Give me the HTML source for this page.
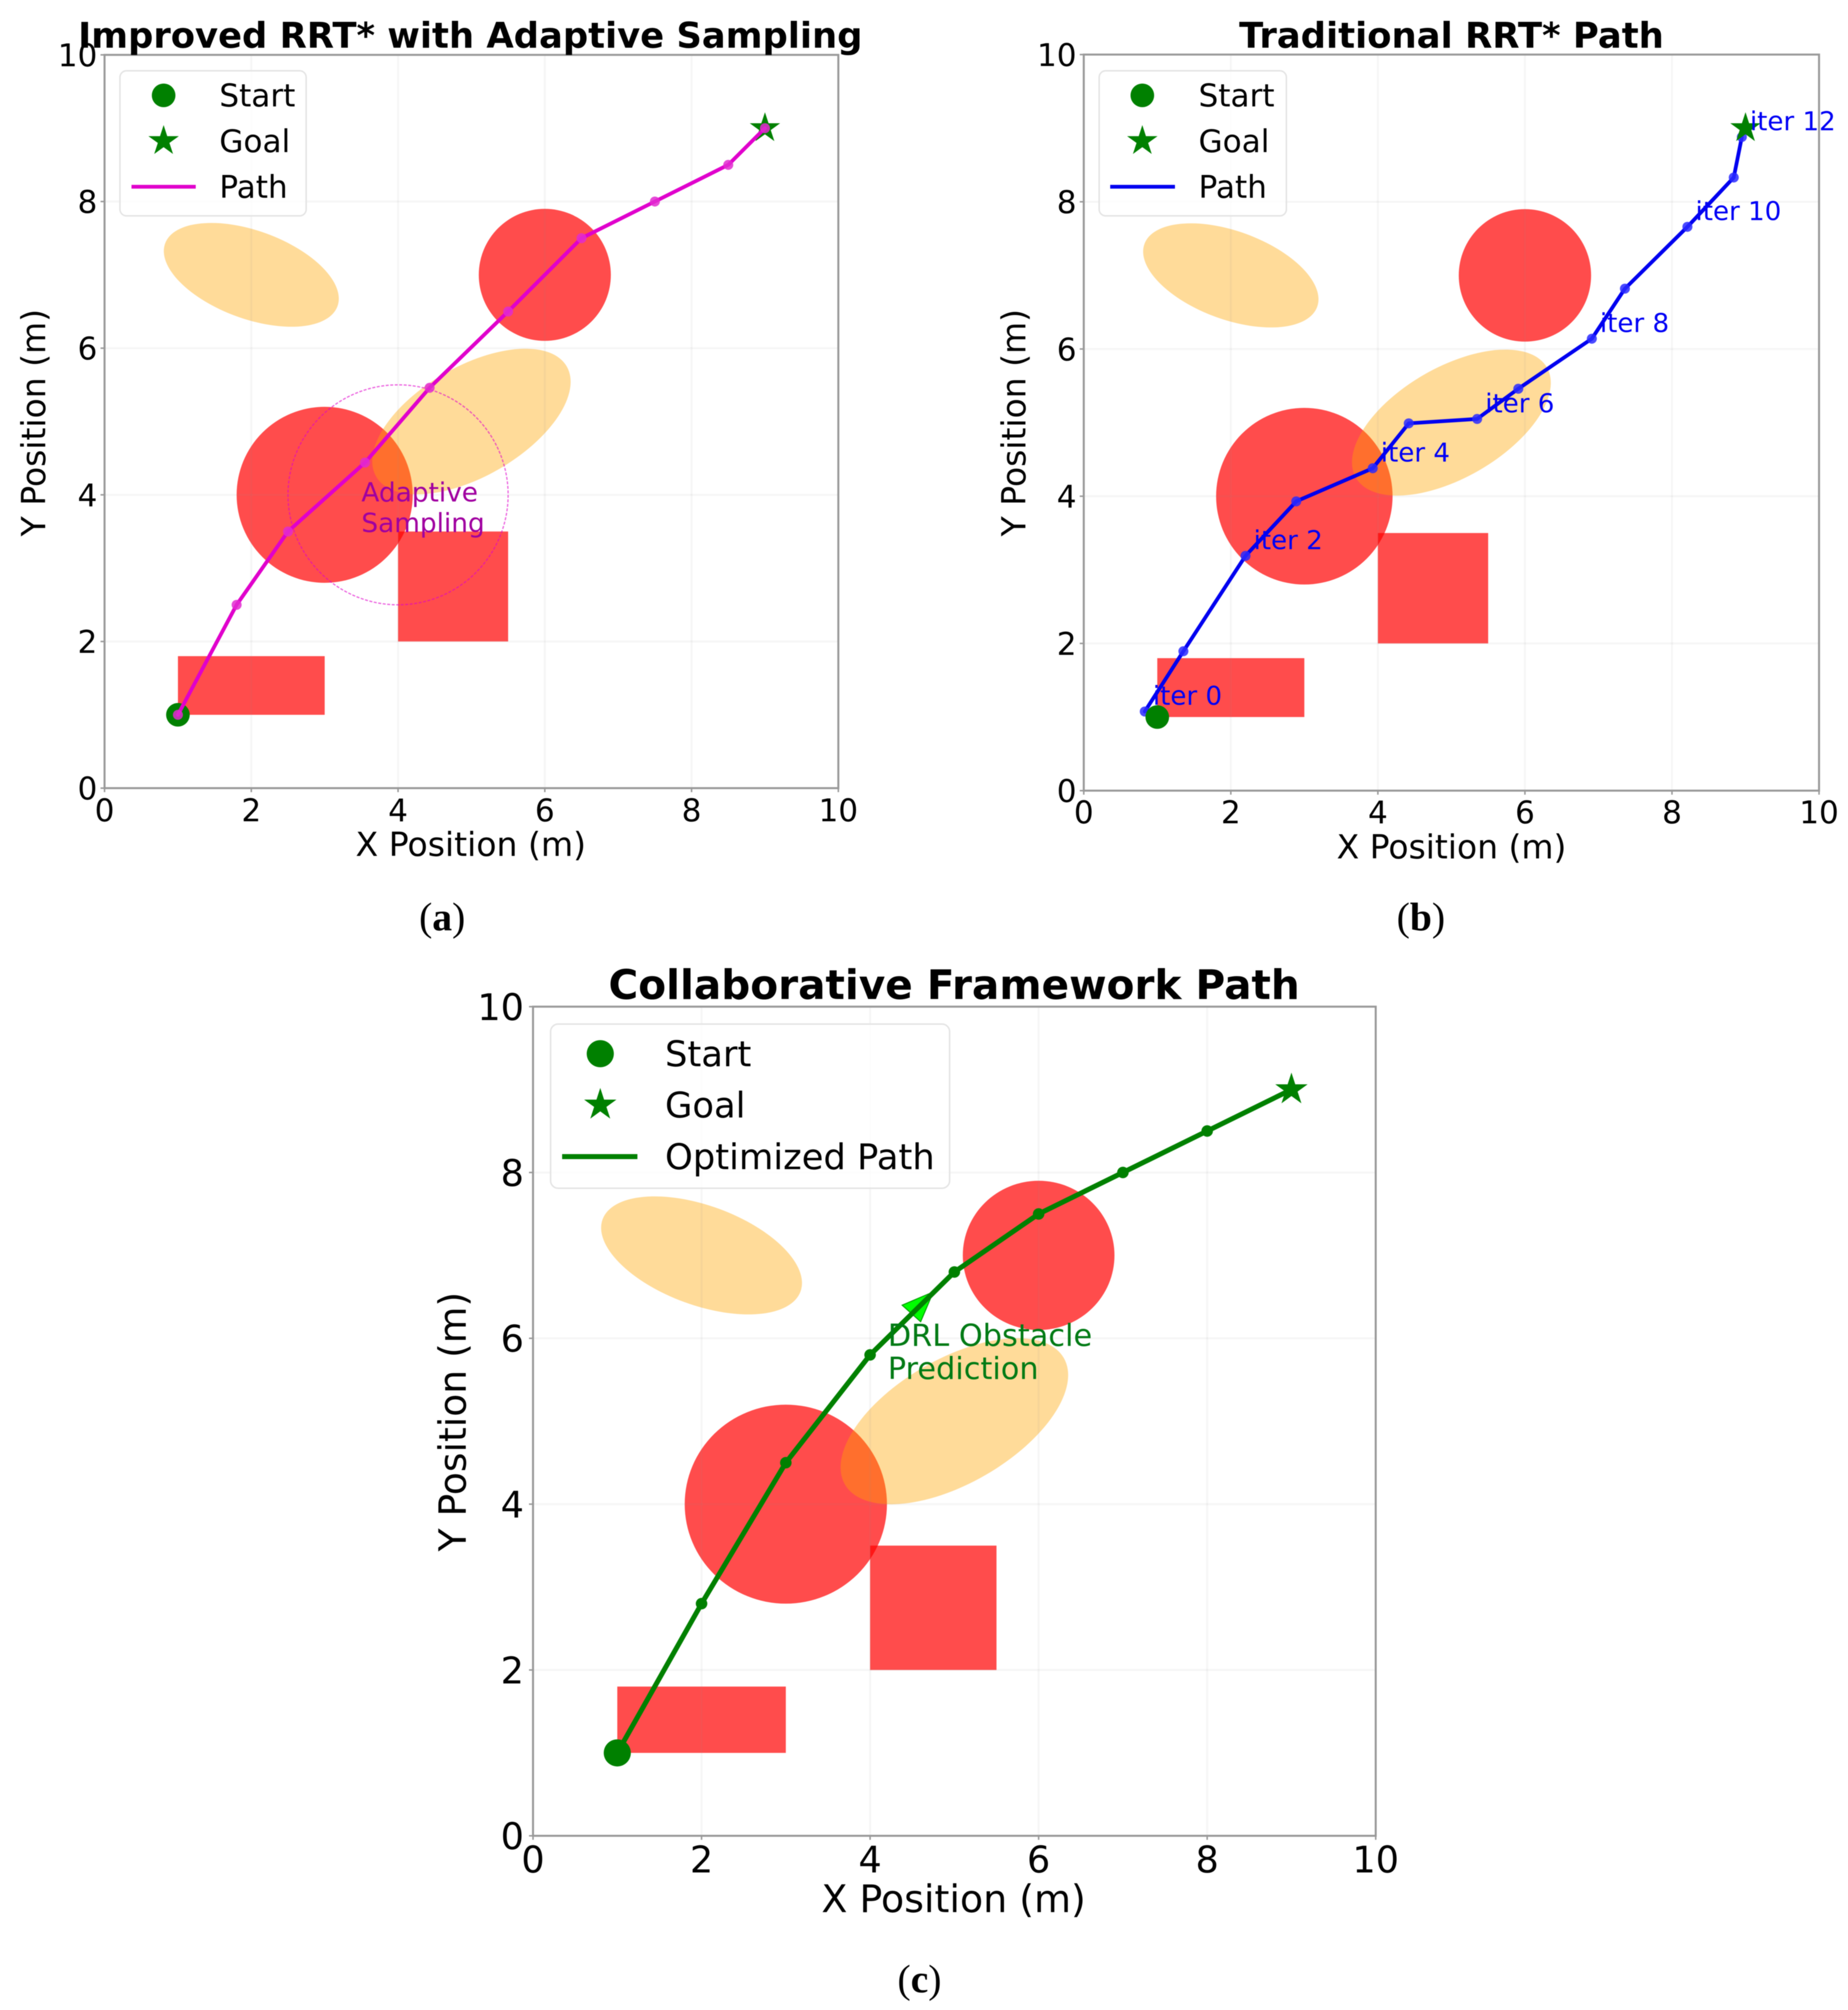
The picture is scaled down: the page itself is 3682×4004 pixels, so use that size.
<!DOCTYPE html>
<html lang="en">
<head>
<meta charset="utf-8">
<title>RRT* path planning comparison</title>
<style>
html,body{margin:0;padding:0;background:#fff;width:3682px;height:4004px;overflow:hidden}
svg{display:block;filter:blur(0.8px)}
text{font-family:"DejaVu Sans",sans-serif;fill:#000}
.title{font-weight:bold;text-anchor:middle}
.axis-label{text-anchor:middle}
.caption{font-family:"Liberation Serif",serif;font-size:79px;text-anchor:middle}
.frame{fill:#fff;fill-opacity:.8;stroke:#e4e4e4;stroke-width:3}
</style>
</head>
<body>
<svg id="figure" xmlns="http://www.w3.org/2000/svg" width="3682" height="4004" viewBox="0 0 3682 4004">
  <rect width="3682" height="4004" fill="#fff"/>

  <!-- Panel A -->
  <g id="plot-a"></g>
  <text class="title" x="937" y="95" font-size="70.4">Improved RRT* with Adaptive Sampling</text>
  <text class="axis-label" x="938" y="1705" font-size="65.9">X Position (m)</text>
  <text class="axis-label" transform="rotate(-90 90 842)" x="90" y="842" font-size="65.7">Y Position (m)</text>
  <g>
    <rect class="frame" x="239" y="141" width="371" height="289" rx="13"/>
    <circle cx="326" cy="190" r="23.5" fill="#008000"/>
    <polygon class="legend-star" data-cx="326" data-cy="281" data-r="27" fill="#008000" stroke="#008000" stroke-width="3"/>
    <line x1="262" y1="372" x2="390" y2="372" stroke="#e000cc" stroke-width="7.5"/>
    <text x="437" y="212" font-size="62">Start</text>
    <text x="437" y="303" font-size="62">Goal</text>
    <text x="437" y="394" font-size="62">Path</text>
  </g>
  <text class="caption" x="881" y="1853">(<tspan font-weight="bold">a</tspan>)</text>

  <!-- Panel B -->
  <g id="plot-b"></g>
  <text class="title" x="2892" y="95" font-size="70.5">Traditional RRT* Path</text>
  <text class="axis-label" x="2892" y="1710" font-size="65.7">X Position (m)</text>
  <text class="axis-label" transform="rotate(-90 2043 842)" x="2043" y="842" font-size="65.7">Y Position (m)</text>
  <g>
    <rect class="frame" x="2190" y="141" width="373" height="289" rx="13"/>
    <circle cx="2276" cy="190" r="23.5" fill="#008000"/>
    <polygon class="legend-star" data-cx="2276" data-cy="281" data-r="27" fill="#008000" stroke="#008000" stroke-width="3"/>
    <line x1="2212" y1="372" x2="2341" y2="372" stroke="#0000f0" stroke-width="7.5"/>
    <text x="2388" y="212" font-size="62">Start</text>
    <text x="2388" y="303" font-size="62">Goal</text>
    <text x="2388" y="394" font-size="62">Path</text>
  </g>
  <text class="caption" x="2831" y="1853">(<tspan font-weight="bold">b</tspan>)</text>

  <!-- Panel C -->
  <g id="plot-c"></g>
  <text class="title" x="1901" y="1990" font-size="80.8">Collaborative Framework Path</text>
  <text class="axis-label" x="1900" y="3809" font-size="75.6">X Position (m)</text>
  <text class="axis-label" transform="rotate(-90 928 2832)" x="928" y="2832" font-size="75">Y Position (m)</text>
  <g>
    <rect class="frame" x="1097" y="2040" width="795" height="327" rx="15"/>
    <circle cx="1196" cy="2099" r="27" fill="#008000"/>
    <polygon class="legend-star" data-cx="1196" data-cy="2201" data-r="29" fill="#008000" stroke="#008000" stroke-width="3"/>
    <line x1="1120" y1="2304" x2="1270" y2="2304" stroke="#008000" stroke-width="10"/>
    <text x="1325" y="2124" font-size="70.4">Start</text>
    <text x="1325" y="2226" font-size="70.4">Goal</text>
    <text x="1325" y="2329" font-size="70.4">Optimized Path</text>
  </g>
  <text class="caption" x="1832" y="3969">(<tspan font-weight="bold">c</tspan>)</text>
</svg>

<script>
// ---- data (axis units) ----
const tickValues = [0, 2, 4, 6, 8, 10];
const tickLabels = ['0', '2', '4', '6', '8', '10'];

const circleX = [3, 6];
const circleY = [4, 7];
const circleR = [1.2, 0.9];

const rectX = [1, 4];
const rectY = [1, 2];
const rectW = [2, 1.5];
const rectH = [0.8, 1.5];

const ellipseX = [2, 5];
const ellipseY = [7, 5];
const ellipseW = [2.5, 3];
const ellipseH = [1.2, 1.5];
const ellipseAngle = [-20, 30];

const startX = 1;
const startY = 1;
const goalX = 9;
const goalY = 9;

const pathAX = [1, 1.8, 2.5, 3.55, 4.43, 5.5, 6.5, 7.5, 8.5, 9];
const pathAY = [1, 2.5, 3.5, 4.44, 5.46, 6.5, 7.5, 8, 8.5, 9];

const pathBX = [0.83, 1.355, 2.2, 2.89, 3.93, 4.42, 5.35, 5.91, 6.91, 7.36, 8.21, 8.84, 8.95];
const pathBY = [1.075, 1.894, 3.19, 3.93, 4.38, 4.99, 5.05, 5.46, 6.14, 6.82, 7.66, 8.33, 8.88];
const iterLabelIndex = [0, 2, 4, 6, 8, 10, 12];
const iterLabelDx = 0.11;
const iterLabelDy = 0.09;

const pathCX = [1, 2, 3, 4, 5, 6, 7, 8, 9];
const pathCY = [1, 2.8, 4.5, 5.8, 6.8, 7.5, 8, 8.5, 9];

const samplingCenterX = 4;
const samplingCenterY = 4;
const samplingRadius = 1.5;
const samplingNoteLines = ['Adaptive', 'Sampling'];
const samplingNoteX = 3.5;
const samplingNoteY = 3.91;

const arrowHeadX = [4.75, 4.38, 4.60];
const arrowHeadY = [6.56, 6.40, 6.20];
const drlNoteLines = ['DRL Obstacle', 'Prediction'];
const drlNoteX = 4.21;
const drlNoteY = 5.91;

// ---- helpers ----
const NS = 'http://www.w3.org/2000/svg';
function mk(parent, tag) {
  const el = document.createElementNS(NS, tag);
  parent.appendChild(el);
  return el;
}
function attrs(el, o) {
  for (const k in o) el.setAttribute(k, o[k]);
  return el;
}
function starPoints(cx, cy, R) {
  const r = R * 0.382;
  const pts = [];
  for (let i = 0; i < 10; i++) {
    const a = -Math.PI / 2 + i * Math.PI / 5;
    const q = i % 2 ? r : R;
    pts.push((cx + q * Math.cos(a)).toFixed(1) + ',' + (cy + q * Math.sin(a)).toFixed(1));
  }
  return pts.join(' ');
}

function drawPanel(id, prefix, L) {
  const g = document.getElementById(id);
  const sx = v => L.x0 + (v / 10) * (L.x1 - L.x0);
  const sy = v => L.y0 - (v / 10) * (L.y0 - L.y1);
  const ux = (L.x1 - L.x0) / 10;
  const uy = (L.y0 - L.y1) / 10;

  circleX.forEach((_, i) => {
    const c = mk(g, 'ellipse');
    attrs(c, {cx: sx(circleX[i]), cy: sy(circleY[i]), rx: circleR[i] * ux, ry: circleR[i] * uy, fill: '#ff0000', 'fill-opacity': 0.7});
    
    
  });
  rectX.forEach((_, i) => {
    const r = mk(g, 'rect');
    attrs(r, {x: sx(rectX[i]), y: sy(rectY[i] + rectH[i]), width: rectW[i] * ux, height: rectH[i] * uy, fill: '#ff0000', 'fill-opacity': 0.7});
    
    
  });
  ellipseX.forEach((_, i) => {
    const e = mk(g, 'ellipse');
    const cx = sx(ellipseX[i]);
    const cy = sy(ellipseY[i]);
    attrs(e, {cx: cx, cy: cy, rx: ellipseW[i] / 2 * ux, ry: ellipseH[i] / 2 * uy, fill: '#ffa500', 'fill-opacity': 0.4,
      transform: 'rotate(' + (-ellipseAngle[i]) + ' ' + cx + ' ' + cy + ')'});
    
    
  });

  tickValues.forEach((v, i) => {
    if (v !== 0 && v !== 10) {
      const gx = mk(g, 'line');
      attrs(gx, {x1: sx(v), x2: sx(v), y1: L.y0, y2: L.y1, stroke: '#888', 'stroke-opacity': 0.08, 'stroke-width': 4});
      
      
      const gy = mk(g, 'line');
      attrs(gy, {x1: L.x0, x2: L.x1, y1: sy(v), y2: sy(v), stroke: '#888', 'stroke-opacity': 0.08, 'stroke-width': 4});
      
      
    }
    const tx = mk(g, 'line');
    attrs(tx, {x1: sx(v), x2: sx(v), y1: L.y0, y2: L.y0 + 8, stroke: '#999', 'stroke-width': 3});
    
    
    const ty = mk(g, 'line');
    attrs(ty, {x1: L.x0 - 8, x2: L.x0, y1: sy(v), y2: sy(v), stroke: '#999', 'stroke-width': 3});
    
    
    const lx = mk(g, 'text');
    attrs(lx, {x: sx(v), y: L.xTickBase, 'font-size': L.tickFont, 'text-anchor': 'middle'});
    lx.textContent = tickLabels[i];
    
    
    const ly = mk(g, 'text');
    attrs(ly, {x: L.yTickRight, y: sy(v) + L.tickFont * 0.365, 'font-size': L.tickFont, 'text-anchor': 'end'});
    ly.textContent = tickLabels[i];
    
    
  });

  const spine = mk(g, 'rect');
  attrs(spine, {x: L.x0, y: L.y1, width: L.x1 - L.x0, height: L.y0 - L.y1, fill: 'none', stroke: '#999', 'stroke-width': 4});
  
  

  function endpoints() {
    const s = mk(g, 'circle');
    attrs(s, {cx: sx(startX), cy: sy(startY), r: L.startR, fill: '#008000'});
    
    
    const st = mk(g, 'polygon');
    attrs(st, {points: starPoints(sx(goalX), sy(goalY), L.starR), fill: '#008000', stroke: '#008000', 'stroke-width': 3});
    
    
  }
  function path() {
    const pl = mk(g, 'polyline');
    attrs(pl, {points: L.px.map((v, i) => sx(v) + ',' + sy(L.py[i])).join(' '), fill: 'none', stroke: L.color,
      'stroke-width': L.lineW, 'stroke-linejoin': 'round', 'stroke-linecap': 'round'});
    
    
    L.px.forEach((v, i) => {
      const m = mk(g, 'circle');
      attrs(m, {cx: sx(v), cy: sy(L.py[i]), r: L.dotR, fill: L.dotColor, 'fill-opacity': L.dotAlpha});
      
      
    });
  }
  if (L.before) L.before(g, sx, sy, ux, uy);
  if (L.endpointsFirst) { endpoints(); path(); } else { path(); endpoints(); }
  if (L.after) L.after(g, sx, sy, ux, uy);
}

function noteLines(g, lines, x, y, size, gap, color, name) {
  lines.forEach((t, i) => {
    const n = mk(g, 'text');
    attrs(n, {x: x, y: y + i * gap, 'font-size': size});
    n.style.fill = color;
    n.textContent = t;
    
    
  });
}

drawPanel('plot-a', 'panel-a', {
  x0: 208.3, x1: 1670.3, y0: 1570, y1: 109.3, tickFont: 62, xTickBase: 1636, yTickRight: 194,
  px: pathAX, py: pathAY, color: '#e000cc', lineW: 7.5, dotR: 10, dotColor: '#e22ad0', dotAlpha: 0.85,
  startR: 23.5, starR: 27, endpointsFirst: true,
  before: function (g, sx, sy, ux, uy) {
    const c = mk(g, 'ellipse');
    attrs(c, {cx: sx(samplingCenterX), cy: sy(samplingCenterY), rx: samplingRadius * ux, ry: samplingRadius * uy,
      fill: 'none', stroke: '#e000cc', 'stroke-opacity': 0.6, 'stroke-width': 2.5, 'stroke-dasharray': '6 3'});
    
    
  },
  after: function (g, sx, sy) {
    noteLines(g, samplingNoteLines, sx(samplingNoteX), sy(samplingNoteY), 52.5, 61, '#a000a0', 'panel-a-adaptive-sampling-note');
  }
});

drawPanel('plot-b', 'panel-b', {
  x0: 2159.3, x1: 3624.3, y0: 1575, y1: 108.7, tickFont: 62, xTickBase: 1640, yTickRight: 2145,
  px: pathBX, py: pathBY, color: '#0000f0', lineW: 7.5, dotR: 10, dotColor: '#2a2aff', dotAlpha: 0.85,
  startR: 23.5, starR: 27, endpointsFirst: false,
  after: function (g, sx, sy) {
    iterLabelIndex.forEach(i => {
      const t = mk(g, 'text');
      attrs(t, {x: sx(pathBX[i] + iterLabelDx), y: sy(pathBY[i] + iterLabelDy), 'font-size': 52});
      t.style.fill = '#0000f5';
      t.textContent = 'iter ' + i;
      
      
    });
  }
});

drawPanel('plot-c', 'panel-c', {
  x0: 1062, x1: 2741, y0: 3657, y1: 2005.3, tickFont: 73, xTickBase: 3730, yTickRight: 1044,
  px: pathCX, py: pathCY, color: '#008000', lineW: 10, dotR: 11.5, dotColor: '#008000', dotAlpha: 1,
  startR: 27, starR: 29, endpointsFirst: true,
  before: function (g, sx, sy) {
    const a = mk(g, 'polygon');
    attrs(a, {points: arrowHeadX.map((v, i) => sx(v) + ',' + sy(arrowHeadY[i])).join(' '), fill: '#00ff00', stroke: '#00a000', 'stroke-width': 2});
    
    
  },
  after: function (g, sx, sy) {
    noteLines(g, drlNoteLines, sx(drlNoteX), sy(drlNoteY), 60.5, 66, '#007a14', 'panel-c-drl-note');
  }
});

document.querySelectorAll('.legend-star').forEach(function (s) {
  s.setAttribute('points', starPoints(+s.dataset.cx, +s.dataset.cy, +s.dataset.r));
});
</script>
</body>
</html>
